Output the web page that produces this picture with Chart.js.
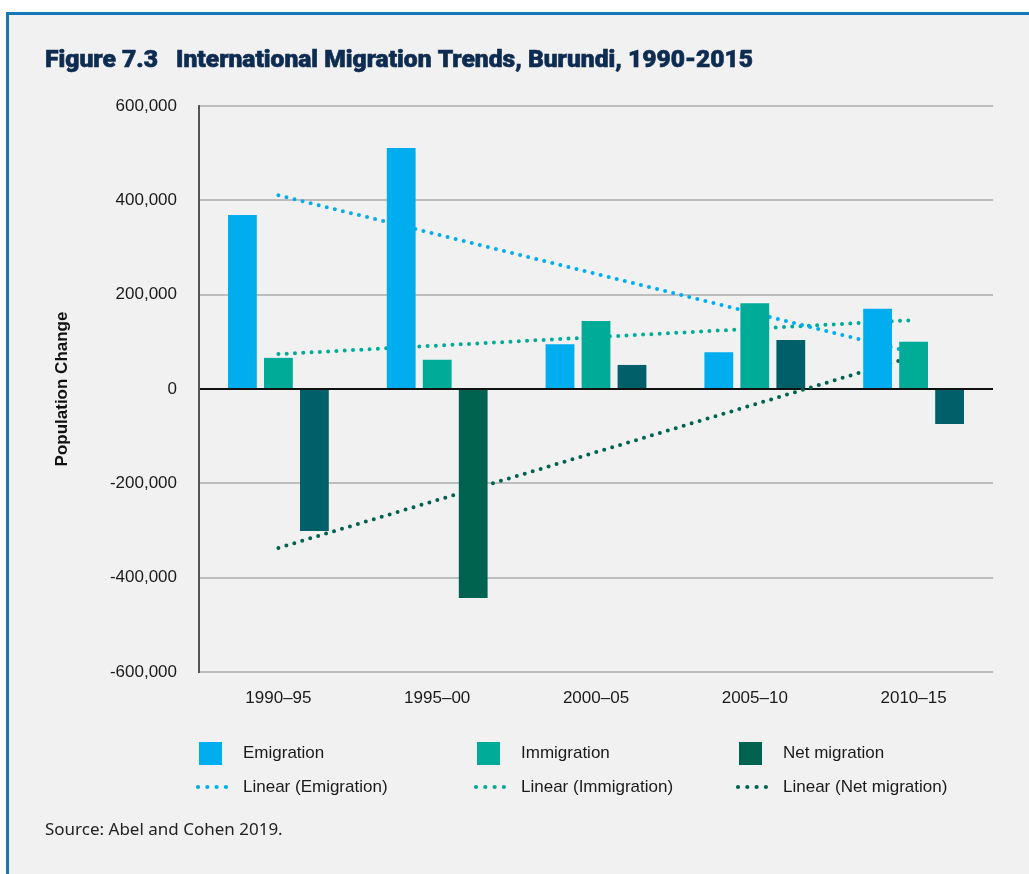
<!DOCTYPE html>
<html>
<head>
<meta charset="utf-8">
<script src="https://cdn.jsdelivr.net/npm/chart.js@4"></script>
<style>
body { margin: 0; background: #ffffff; }
#panel {
	position: absolute; left: 6px; top: 12px; width: 1023px; height: 862px;
	background: #f1f1f1; border-top: 3px solid #1478b8; border-left: 3px solid #1478b8;
	box-sizing: border-box;
}
#chart { position: absolute; left: 0; top: 0; }
</style>
</head>
<body>
<div id="panel"></div>
<canvas id="chart" width="1029" height="874"></canvas>
<script>
// Burundi migration, five-year periods
const categories = ['1990–95', '1995–00', '2000–05', '2005–10', '2010–15'];
const emigration = [369000, 511000, 95000, 78000, 170000];
const immigration = [66000, 62000, 144000, 182000, 100000];
const netMigration = [-301000, -443000, 51000, 104000, -74000];
// linear trend lines, first and last period only
const trendEmigration = [411000, null, null, null, 77000];
const trendImmigration = [74000, null, null, null, 146000];
const trendNet = [-337000, null, null, null, 69000];
const yTicks = [-600000, -400000, -200000, 0, 200000, 400000, 600000];

const FONT = '"Liberation Sans", Arial, sans-serif';
const colEmig = '#00adef';
const colImm = '#00ab97';
const colNet = '#00634f';
const netBarColors = ['#00606a', '#00634f', '#005f69', '#005f69', '#005f69'];

function trendLine(label, data, color) {
	return {
		type: 'line', label: label, data: data, spanGaps: true,
		borderColor: color, backgroundColor: color, borderWidth: 4,
		borderDash: [0, 8.3], borderCapStyle: 'round',
		pointRadius: 0, order: 2
	};
}

// title, source note and the two-row legend
const extras = {
	id: 'extras',
	afterDraw(chart) {
		const ctx = chart.ctx;
		ctx.save();
		ctx.fillStyle = '#0e2c52';
		ctx.strokeStyle = '#0e2c52';
		ctx.lineWidth = 0.6;
		ctx.textBaseline = 'alphabetic';
		ctx.font = '900 23px Roboto, "DejaVu Sans", sans-serif';
		fitText(ctx, 'Figure 7.3', 45, 67, 113);
		fitText(ctx, 'International Migration Trends, Burundi, 1990-2015', 176, 67, 577);

		ctx.fillStyle = '#222';
		ctx.font = '17px "Noto Sans", sans-serif';
		ctx.textBaseline = 'middle';
		ctx.fillText('Source: Abel and Cohen 2019.', 45, 830);

		const cols = [199, 477, 739];
		const ds = chart.data.datasets;
		ctx.font = '17px ' + FONT;
		for (let i = 0; i < 6; i++) {
			const d = ds[i];
			const x = cols[i % 3];
			const y = i < 3 ? 753 : 787;
			if (d.type === 'line') {
				ctx.fillStyle = d.borderColor;
				for (let k = 0; k < 4; k++) {
					ctx.beginPath();
					ctx.arc(x - 1 + k * 9.3, y, 2.1, 0, Math.PI * 2);
					ctx.fill();
				}
			} else {
				ctx.fillStyle = i === 2 ? colNet : d.backgroundColor;
				ctx.fillRect(x, y - 11, 23, 23);
			}
			ctx.fillStyle = '#1a1a1a';
			ctx.fillText(d.label, x + 44, y);
		}
		ctx.restore();
	}
};

function fitText(ctx, text, x, y, width) {
	const w = ctx.measureText(text).width;
	ctx.save();
	ctx.translate(x, y);
	ctx.scale(width / w, 1);
	ctx.fillText(text, 0, 0);
	ctx.strokeText(text, 0, 0);
	ctx.restore();
}

new Chart(document.getElementById('chart'), {
	type: 'bar',
	data: {
		labels: categories,
		datasets: [
			{ label: 'Emigration', data: emigration, backgroundColor: colEmig, order: 1 },
			{ label: 'Immigration', data: immigration, backgroundColor: colImm, order: 1 },
			{ label: 'Net migration', data: netMigration, backgroundColor: netBarColors, order: 1 },
			trendLine('Linear (Emigration)', trendEmigration, '#00aeef'),
			trendLine('Linear (Immigration)', trendImmigration, '#00ab97'),
			trendLine('Linear (Net migration)', trendNet, '#006350')
		]
	},
	options: {
		responsive: false,
		animation: false,
		layout: { padding: { top: 106, right: 36, bottom: 162, left: 0 } },
		datasets: { bar: { categoryPercentage: 0.68, barPercentage: 0.8 } },
		plugins: { legend: { display: false }, tooltip: { enabled: false } },
		scales: {
			x: {
				grid: { display: false },
				border: { display: false },
				ticks: { color: '#1a1a1a', font: { family: FONT, size: 17 }, padding: 8, maxRotation: 0 },
				afterFit(scale) { scale.height = 40; }
			},
			y: {
				min: -600000, max: 600000,
				afterBuildTicks(scale) { scale.ticks = yTicks.map(v => ({ value: v })); },
				grid: {
					drawTicks: false,
					color: c => c.tick && c.tick.value === 0 ? '#111' : '#bdbdbd',
					lineWidth: 2
				},
				border: { color: '#555', width: 2 },
				ticks: {
					color: '#1a1a1a', font: { family: FONT, size: 17 }, padding: 22,
					callback: v => v.toLocaleString('en-US')
				},
				title: {
					display: true, text: 'Population Change', color: '#111',
					font: { family: FONT, size: 17, weight: 'bold' }, padding: { top: 52, bottom: 0 }
				},
				afterFit(scale) { scale.width = 199; }
			}
		}
	},
	plugins: [extras]
});
</script>
</body>
</html>
